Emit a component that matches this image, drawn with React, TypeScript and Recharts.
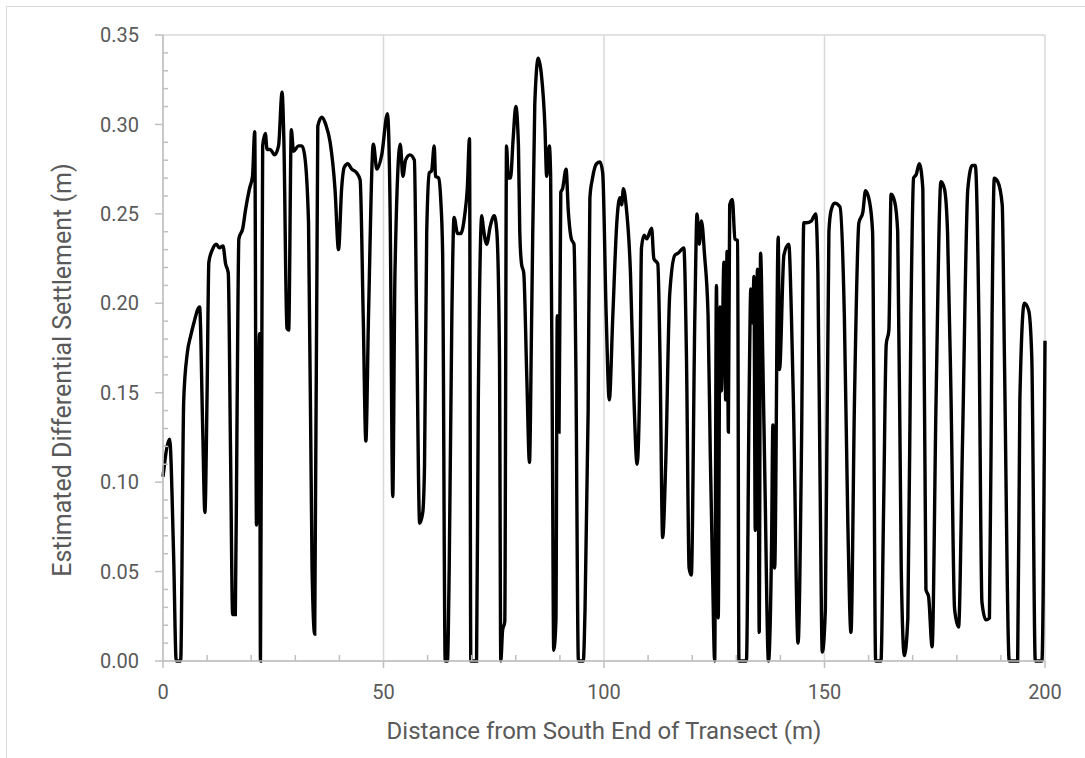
import { CartesianGrid, Line, LineChart, XAxis, YAxis } from "recharts";

// distance along transect (m) and estimated differential settlement (m)
const distance = [
  0, 1.5, 2.4, 3.0, 4.0, 4.7, 5.5, 6.3, 7.0, 8.3, 9.0, 9.5, 10.0, 10.4, 11.2, 12.1, 12.8, 13.6, 14.2, 14.8,
  15.3, 15.8, 16.4, 16.8, 17.2, 18.1, 18.7, 19.6, 20.3, 20.8, 21.2, 21.9, 22.1, 22.6, 23.2, 23.6, 24.3, 25.3,
  26.2, 27.0, 27.4, 28.1, 28.5, 29.1, 29.6, 30.7, 31.5, 32.1, 33.0, 33.8, 34.4, 35.1, 36.0, 36.9, 37.9, 39.0,
  39.8, 40.5, 41.1, 41.9, 42.8, 43.9, 44.7, 45.4, 46.0, 46.6,
  47.7, 48.5, 49.6, 50.9, 51.5, 52.1, 52.6, 53.8, 54.4, 55.0, 56.0, 57.0, 57.5, 58.2, 58.9, 59.3, 59.8, 60.4,
  60.9, 61.5, 61.8, 62.5, 63.0, 63.4, 64.0, 64.5, 64.9, 65.5, 66.0, 66.8, 67.5, 68.5, 69.0, 69.5, 69.8, 71.1,
  71.5, 72.3, 72.6, 73.4, 74.2, 75.1, 75.7, 76.3, 76.6, 77.0, 77.5, 77.9, 78.3, 78.8, 79.4, 80.0, 80.6, 80.9,
  81.3, 81.8, 82.5, 83.1, 83.6, 84.3, 85.1, 85.8, 86.6, 87.0, 87.6, 87.9, 88.3, 88.6, 89.1, 89.4, 89.8, 90.2,
  90.6, 91.4, 91.9, 92.6, 93.2, 93.6, 94.2, 95.3, 95.7, 96.4, 96.8, 97.4, 98.3, 99.1,
  99.7, 100.5, 101.2, 102.0, 102.9, 103.6, 104.0, 104.4, 105.0, 106.0, 106.8, 107.5, 108.2, 108.5, 109.1,
  109.7, 110.8, 111.3, 112.2, 112.7, 113.3, 114.0, 114.9, 116.1, 116.8, 118.1, 118.7, 119.3, 119.8, 120.6,
  121.1, 121.6, 122.1, 122.8, 123.6, 124.1, 124.6, 125.1, 125.5, 125.9, 126.3, 126.6, 127.2, 127.6, 127.9,
  128.2, 128.5, 129.1, 129.7, 130.3, 130.6, 132.3, 132.9, 133.3, 133.7, 134.0, 134.3, 134.8, 135.2, 135.5,
  136.0, 136.5, 137.3, 138.0, 138.3, 138.7, 139.5, 139.8, 140.8, 141.9, 142.5, 143.0, 144.0, 144.8, 145.3,
  145.9, 147.0, 148.0, 148.5, 149.0, 149.5,
  150.2, 151.0, 151.5, 152.3, 153.5, 154.5, 155.3, 156.0, 156.8, 157.8, 158.7, 159.3, 160.2, 160.9, 161.6,
  162.8, 163.4, 164.0, 164.6, 165.1, 165.9, 166.6, 167.4, 168.1, 168.9, 169.6, 170.2, 170.8, 171.5, 172.3,
  173.0, 173.6, 174.4, 175.3, 176.4, 177.2, 177.9, 178.7, 179.5, 180.4, 181.3, 182.5, 183.5, 184.2, 185.0,
  185.7, 186.6, 187.4, 188.0, 188.5, 189.3, 190.3, 190.8, 191.9, 193.8, 194.3, 195.3, 196.3, 197.0, 197.8,
  199.3, 200.0,
];

const settlement = [
  0.103, 0.124, 0.06, 0, 0, 0.146, 0.172, 0.182, 0.189, 0.198, 0.13, 0.083, 0.15, 0.223, 0.23, 0.233, 0.231, 0.232, 0.222, 0.217,
  0.12, 0.026, 0.026, 0.14, 0.236, 0.242, 0.252, 0.264, 0.271, 0.296, 0.076, 0.183, 0, 0.288, 0.295, 0.286, 0.286, 0.283,
  0.288, 0.318, 0.292, 0.186, 0.185, 0.297, 0.285, 0.288, 0.288, 0.283, 0.245, 0.052, 0.015, 0.299, 0.304, 0.3, 0.29, 0.264,
  0.23, 0.264, 0.276, 0.278, 0.275, 0.273, 0.269, 0.193, 0.123, 0.193,
  0.289, 0.275, 0.283, 0.306, 0.252, 0.092, 0.217, 0.289, 0.271, 0.28, 0.283, 0.28, 0.193, 0.077, 0.083, 0.109, 0.24, 0.273,
  0.274, 0.288, 0.271, 0.27, 0.257, 0.229, 0, 0, 0.052, 0.193, 0.248, 0.239, 0.239, 0.251, 0.264, 0.292, 0, 0,
  0.146, 0.249, 0.243, 0.233, 0.243, 0.249, 0.24, 0.17, 0, 0.017, 0.022, 0.288, 0.27, 0.27, 0.292, 0.31, 0.288, 0.24,
  0.222, 0.217, 0.158, 0.111, 0.193, 0.311, 0.337, 0.328, 0.299, 0.271, 0.288, 0.271, 0.123, 0.006, 0.023, 0.193, 0.128, 0.262,
  0.264, 0.275, 0.252, 0.236, 0.233, 0.17, 0, 0, 0.029, 0.139, 0.259, 0.27, 0.278, 0.279,
  0.273, 0.193, 0.146, 0.193, 0.245, 0.259, 0.255, 0.264, 0.255, 0.217, 0.146, 0.11, 0.17, 0.231, 0.238,
  0.236, 0.242, 0.225, 0.222, 0.17, 0.069, 0.111, 0.205, 0.227, 0.228, 0.231, 0.17, 0.052, 0.048, 0.193,
  0.25, 0.233, 0.246, 0.227, 0.193, 0.116, 0.052, 0, 0.21, 0.024, 0.198, 0.151, 0.223, 0.146, 0.229,
  0.128, 0.255, 0.258, 0.236, 0.235, 0, 0, 0.146, 0.208, 0.189, 0.215, 0.073, 0.219, 0.016, 0.228,
  0.17, 0.099, 0, 0.066, 0.132, 0.052, 0.237, 0.163, 0.227, 0.233, 0.193, 0.139, 0.01, 0.123, 0.245,
  0.245, 0.246, 0.25, 0.217, 0.099, 0.005,
  0.029, 0.24, 0.252, 0.256, 0.254, 0.193, 0.076, 0.016, 0.146, 0.245, 0.251, 0.263, 0.257, 0.24, 0,
  0, 0.085, 0.177, 0.185, 0.261, 0.257, 0.24, 0.052, 0.003, 0.024, 0.193, 0.27, 0.272, 0.278, 0.264,
  0.04, 0.036, 0.008, 0.146, 0.268, 0.264, 0.24, 0.146, 0.029, 0.019, 0.123, 0.264, 0.277, 0.277, 0.193,
  0.033, 0.023, 0.024, 0.193, 0.27, 0.268, 0.255, 0.17, 0, 0, 0.146, 0.2, 0.196, 0.17, 0,
  0, 0.179,
];

// axis ticks: every 10 m / 0.01 m, labelled and gridded on the majors only
const xTicks = [0, 10, 20, 30, 40, 50, 60, 70, 80, 90, 100, 110, 120, 130, 140, 150, 160, 170, 180, 190, 200];
const xMajor = [0, 50, 100, 150, 200];
const yTicks = [
  0, 0.01, 0.02, 0.03, 0.04, 0.05, 0.06, 0.07, 0.08, 0.09, 0.1, 0.11, 0.12, 0.13, 0.14, 0.15, 0.16, 0.17,
  0.18, 0.19, 0.2, 0.21, 0.22, 0.23, 0.24, 0.25, 0.26, 0.27, 0.28, 0.29, 0.3, 0.31, 0.32, 0.33, 0.34, 0.35,
];
const yMajor = [0, 0.05, 0.1, 0.15, 0.2, 0.25, 0.3, 0.35];

const data = distance.map((d, i) => ({ d, s: settlement[i] }));

const AXIS = "#bfbfbf";
const GRID = "#d9d9d9";
const TEXT = "#595959";

const isMajorY = (v: number) => Math.round(v * 100) % 5 === 0;

function XTick({ x, y, payload }: any) {
  if (payload.value % 50 === 0) {
    return (
      <g>
        <line x1={x} y1={y} x2={x} y2={y + 7} stroke={AXIS} strokeWidth={1.5} />
        <text x={x} y={y + 38} textAnchor="middle" fontSize={20} fill={TEXT}>
          {payload.value}
        </text>
      </g>
    );
  }
  return <line x1={x} y1={y - 6} x2={x} y2={y} stroke={AXIS} strokeWidth={1.5} />;
}

function YTick({ x, y, payload }: any) {
  if (isMajorY(payload.value)) {
    return (
      <g>
        <line x1={x - 8} y1={y} x2={x} y2={y} stroke={AXIS} strokeWidth={1.5} />
        <text x={x - 24} y={y} dy="0.36em" textAnchor="end" fontSize={20} fill={TEXT}>
          {payload.value.toFixed(2)}
        </text>
      </g>
    );
  }
  return <line x1={x} y1={y} x2={x + 5} y2={y} stroke={AXIS} strokeWidth={1.5} />;
}

export default function App() {
  return (
    <div
      style={{
        position: "absolute",
        left: 0,
        top: 0,
        width: 1085,
        height: 758,
        overflow: "hidden",
        background: "#fff",
        fontFamily: "Roboto, 'Noto Sans', sans-serif",
      }}
    >
      <div
        style={{
          position: "absolute",
          left: 6,
          top: 6,
          width: 1200,
          height: 900,
          border: `1.5px solid ${GRID}`,
        }}
      />
      <LineChart
        width={1085}
        height={758}
        data={data}
        margin={{ top: 35, right: 40, left: 3, bottom: 17 }}
        style={{ position: "absolute", left: 0, top: 0 }}
      >
        <XAxis xAxisId="major" dataKey="d" type="number" domain={[0, 200]} ticks={xMajor} hide />
        <YAxis yAxisId="major" type="number" domain={[0, 0.35]} ticks={yMajor} hide />
        <CartesianGrid xAxisId="major" yAxisId="major" stroke={GRID} strokeWidth={1.5} />
        <XAxis
          dataKey="d"
          type="number"
          domain={[0, 200]}
          ticks={xTicks}
          interval={0}
          height={80}
          tickSize={0}
          tickMargin={0}
          tickLine={false}
          axisLine={{ stroke: AXIS, strokeWidth: 1.5 }}
          tick={XTick}
          label={{
            value: "Distance from South End of Transect (m)",
            position: "insideBottom",
            offset: 2,
            fill: TEXT,
            fontSize: 24,
          }}
        />
        <YAxis
          type="number"
          domain={[0, 0.35]}
          ticks={yTicks}
          interval={0}
          width={160}
          tickSize={0}
          tickMargin={0}
          tickLine={false}
          axisLine={{ stroke: AXIS, strokeWidth: 1.5 }}
          tick={YTick}
          label={{
            value: "Estimated Differential Settlement (m)",
            angle: -90,
            position: "insideLeft",
            offset: 59,
            dy: 22,
            fill: TEXT,
            fontSize: 25,
            style: { textAnchor: "middle" },
          }}
        />
        <Line
          dataKey="s"
          type="monotone"
          stroke="#000"
          strokeWidth={3.4}
          dot={false}
          isAnimationActive={false}
        />
      </LineChart>
    </div>
  );
}
